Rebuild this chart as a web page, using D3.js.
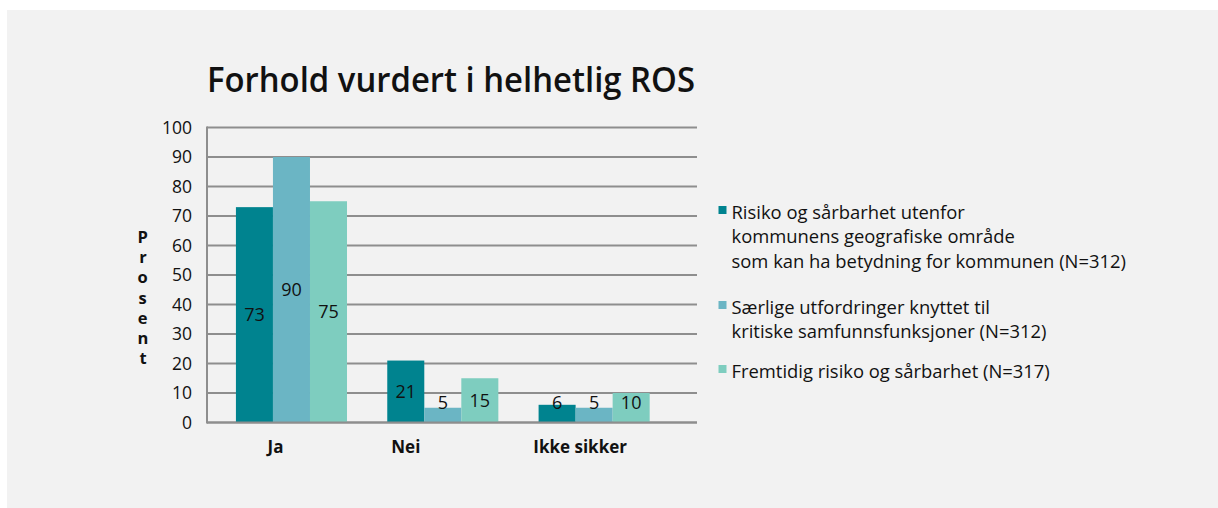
<!DOCTYPE html>
<html><head><meta charset="utf-8">
<script src="https://cdn.jsdelivr.net/npm/d3@7"></script>
<style>
html,body{margin:0;padding:0;background:#fff;}
svg{display:block;}
text{font-family:"Open Sans","Noto Sans",sans-serif;fill:#111;}
</style></head><body>
<svg id="c" width="1218" height="508"></svg>
<script>
const title = "Forhold vurdert i helhetlig ROS";
const categories = ["Ja", "Nei", "Ikke sikker"];
const seriesNames = [
  ["Risiko og sårbarhet utenfor", "kommunens geografiske område", "som kan ha betydning for kommunen (N=312)"],
  ["Særlige utfordringer knyttet til", "kritiske samfunnsfunksjoner (N=312)"],
  ["Fremtidig risiko og sårbarhet (N=317)"]
];
const seriesA = [73, 21, 6];
const seriesB = [90, 5, 5];
const seriesC = [75, 15, 10];
const yTicks = [0, 10, 20, 30, 40, 50, 60, 70, 80, 90, 100];
const yLabel = "Prosent";

const colors = ["#00838f", "#6bb5c4", "#7ecdbf"];
const series = [seriesA, seriesB, seriesC];
const xLabelShift = [-16, -37, -14];

const svg = d3.select("#c");
svg.append("rect").attr("x", 7).attr("y", 10).attr("width", 1211).attr("height", 498).attr("fill", "#f2f2f2");

const plotL = 207, plotR = 697, plotT = 127.5, plotB = 422.5;
const y = d3.scaleLinear().domain([0, 100]).range([plotB, plotT]);
const x0 = d3.scaleBand().domain(categories).range([215.8, 669.8]).paddingInner(0.266).paddingOuter(0.133);
const x1 = d3.scaleBand().domain(d3.range(3)).range([0, x0.bandwidth()]);

// gridlines
svg.append("g").selectAll("line").data(yTicks).join("line")
  .attr("x1", plotL).attr("x2", plotR)
  .attr("y1", d => y(d)).attr("y2", d => y(d))
  .attr("stroke", "#8e8e8e").attr("stroke-width", 2);
svg.append("line").attr("x1", plotL).attr("x2", plotL).attr("y1", plotT - 1).attr("y2", plotB + 1)
  .attr("stroke", "#8e8e8e").attr("stroke-width", 2);

// y tick labels
svg.append("g").selectAll("text").data(yTicks).join("text")
  .attr("x", 192).attr("y", d => y(d)).attr("dy", "0.36em")
  .attr("text-anchor", "end").attr("font-size", 17.5).text(d => d);

// y label: vertical stacked letters as one text
svg.append("text")
  .attr("x", 142.5).attr("y", 225)
  .attr("font-size", 16.5).attr("font-weight", 700)
  .style("writing-mode", "vertical-rl").style("text-orientation", "upright")
  .style("letter-spacing", "-2.8px")
  .text(yLabel);

// bars
const g = svg.append("g");
categories.forEach((c, ci) => {
  series.forEach((s, si) => {
    const v = s[ci];
    const bx = x0(c) + x1(si);
    g.append("rect").attr("x", bx).attr("y", y(v)).attr("width", x1.bandwidth()).attr("height", plotB - y(v))
      .attr("fill", colors[si]);
  });
});
// bottom axis line over bars
svg.append("line").attr("x1", plotL).attr("x2", plotR).attr("y1", y(0)).attr("y2", y(0))
  .attr("stroke", "#8e8e8e").attr("stroke-width", 2);
// value labels
categories.forEach((c, ci) => {
  series.forEach((s, si) => {
    const v = s[ci];
    const bx = x0(c) + x1(si) + x1.bandwidth() / 2;
    const mid = (y(v) + y(0)) / 2;
    const ly = Math.min(mid, y(0) - 20);
    svg.append("text").attr("x", bx).attr("y", ly).attr("dy", "0.36em")
      .attr("text-anchor", "middle").attr("font-size", 18).text(v);
  });
});

// x labels
svg.append("g").selectAll("text").data(categories).join("text")
  .attr("x", (d, i) => x0(d) + x0.bandwidth() / 2 + xLabelShift[i]).attr("y", 453)
  .attr("text-anchor", "middle").attr("font-size", 17).attr("font-weight", 700).text(d => d);

// title
svg.append("text").attr("x", 207).attr("y", 91.5).attr("font-size", 35).attr("font-weight", 600)
  .attr("textLength", 488).attr("lengthAdjust", "spacingAndGlyphs").text(title);

// legend
const legTops = [205, 300, 364];
const lineH = 24.5;
seriesNames.forEach((lines, si) => {
  svg.append("rect").attr("x", 718.5).attr("y", legTops[si] + 1).attr("width", 8).attr("height", 8).attr("fill", colors[si]);
  lines.forEach((ln, li) => {
    svg.append("text").attr("x", 731.5).attr("y", legTops[si] + 13.5 + li * lineH)
      .attr("font-size", 18.4).text(ln);
  });
});
</script>
</body></html>
